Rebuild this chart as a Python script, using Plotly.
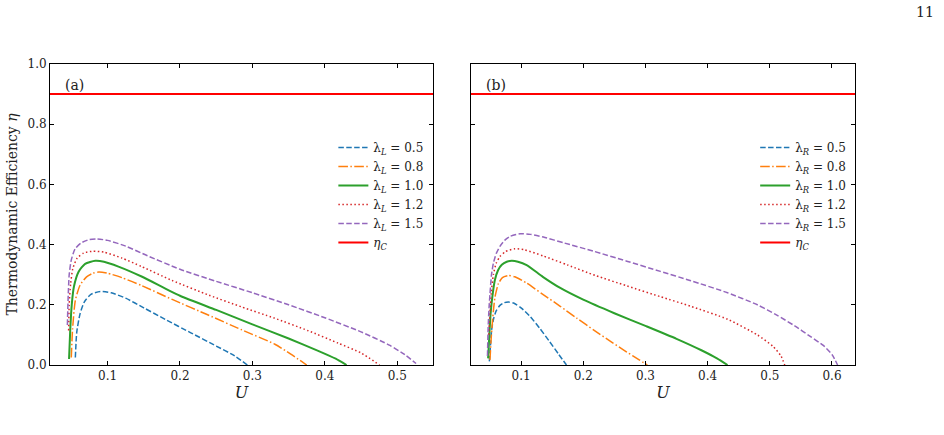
import plotly.graph_objects as go

# ---------------- data ----------------
eta_C = 0.9
lambdas = ["0.5", "0.8", "1.0", "1.2", "1.5"]

# Panel (a): varying lambda_L
a_U_05 = [0.0555, 0.0575, 0.062, 0.068, 0.077, 0.09, 0.105, 0.125, 0.15, 0.18, 0.215, 0.25, 0.275, 0.293]
a_E_05 = [0.025, 0.11, 0.17, 0.21, 0.235, 0.244, 0.24, 0.222, 0.19, 0.151, 0.107, 0.063, 0.031, 0.0]
a_U_08 = [0.0499, 0.0517, 0.0555, 0.062, 0.071, 0.08, 0.088, 0.1, 0.12, 0.147, 0.19, 0.239, 0.285, 0.331, 0.353, 0.375]
a_E_08 = [0.025, 0.12, 0.215, 0.265, 0.293, 0.305, 0.309, 0.305, 0.29, 0.264, 0.217, 0.166, 0.117, 0.069, 0.036, 0.0]
a_U_10 = [0.0468, 0.0485, 0.0505, 0.0535, 0.06, 0.069, 0.083, 0.095, 0.115, 0.147, 0.2, 0.25, 0.3, 0.35, 0.39, 0.415, 0.43]
a_E_10 = [0.02, 0.12, 0.2, 0.26, 0.31, 0.336, 0.346, 0.343, 0.327, 0.294, 0.23, 0.183, 0.135, 0.088, 0.048, 0.021, 0.0]
a_U_12 = [0.0462, 0.047, 0.049, 0.052, 0.058, 0.067, 0.08, 0.095, 0.12, 0.147, 0.189, 0.24, 0.285, 0.33, 0.377, 0.418, 0.45, 0.4755]
a_E_12 = [0.115, 0.2, 0.27, 0.32, 0.355, 0.372, 0.378, 0.375, 0.355, 0.327, 0.281, 0.232, 0.193, 0.156, 0.114, 0.073, 0.04, 0.0]
a_U_15 = [0.0445, 0.0455, 0.047, 0.05, 0.055, 0.063, 0.075, 0.085, 0.1, 0.125, 0.155, 0.2, 0.25, 0.3, 0.35, 0.4, 0.45, 0.49, 0.51, 0.526]
a_E_15 = [0.133, 0.22, 0.3, 0.35, 0.385, 0.405, 0.417, 0.419, 0.414, 0.395, 0.363, 0.318, 0.278, 0.24, 0.2, 0.157, 0.11, 0.065, 0.035, 0.005]

# Panel (b): varying lambda_R
b_U_05 = [0.049, 0.051, 0.0527, 0.056, 0.06, 0.066, 0.073, 0.08, 0.088, 0.1, 0.115, 0.13, 0.145, 0.16, 0.173]
b_E_05 = [0.012, 0.07, 0.117, 0.155, 0.18, 0.198, 0.207, 0.209, 0.206, 0.19, 0.16, 0.122, 0.08, 0.037, 0.0]
b_U_08 = [0.05, 0.052, 0.0538, 0.056, 0.058, 0.0635, 0.07, 0.08, 0.09, 0.109, 0.135, 0.163, 0.19, 0.217, 0.245, 0.27, 0.29, 0.303]
b_E_08 = [0.017, 0.09, 0.14, 0.19, 0.225, 0.27, 0.29, 0.297, 0.293, 0.272, 0.235, 0.195, 0.155, 0.116, 0.077, 0.043, 0.017, 0.0]
b_U_10 = [0.047, 0.049, 0.051, 0.054, 0.058, 0.063, 0.069, 0.077, 0.085, 0.095, 0.109, 0.135, 0.163, 0.2, 0.25, 0.3, 0.35, 0.39, 0.415, 0.432]
b_E_10 = [0.022, 0.1, 0.17, 0.23, 0.283, 0.315, 0.333, 0.343, 0.346, 0.343, 0.332, 0.293, 0.256, 0.217, 0.172, 0.13, 0.087, 0.049, 0.022, 0.0]
b_U_12 = [0.048, 0.05, 0.052, 0.0555, 0.06, 0.066, 0.075, 0.09, 0.105, 0.136, 0.175, 0.22, 0.27, 0.324, 0.373, 0.432, 0.48, 0.505, 0.518, 0.524]
b_E_12 = [0.1, 0.172, 0.24, 0.3, 0.338, 0.36, 0.377, 0.386, 0.383, 0.362, 0.332, 0.297, 0.263, 0.227, 0.195, 0.152, 0.1, 0.062, 0.03, 0.0]
b_U_15 = [0.046, 0.047, 0.0485, 0.05, 0.0525, 0.0555, 0.06, 0.066, 0.074, 0.082, 0.0984, 0.115, 0.136, 0.17, 0.2167, 0.27, 0.324, 0.373, 0.432, 0.48, 0.512, 0.54, 0.565, 0.586, 0.6, 0.609]
b_E_15 = [0.03, 0.12, 0.19, 0.235, 0.3, 0.338, 0.37, 0.394, 0.415, 0.427, 0.436, 0.434, 0.425, 0.405, 0.378, 0.345, 0.311, 0.28, 0.24, 0.2, 0.165, 0.13, 0.095, 0.065, 0.035, 0.0]

x_ticks_a = [0.1, 0.2, 0.3, 0.4, 0.5]
x_ticks_b = [0.1, 0.2, 0.3, 0.4, 0.5, 0.6]
y_ticks = [0.0, 0.2, 0.4, 0.6, 0.8, 1.0]

# ---------------- styling ----------------
SERIF = "DejaVu Serif"
colors = ["#1f77b4", "#ff7f0e", "#2ca02c", "#d62728", "#9467bd"]
dashes = ["5.5px,2.4px", "9.6px,2.4px,1.5px,2.4px", "solid", "1.5px,2.5px", "5.5px,2.4px"]
widths = [1.5, 1.5, 2.0, 1.5, 1.5]

fig = go.Figure()

series_a = [(a_U_05, a_E_05), (a_U_08, a_E_08), (a_U_10, a_E_10), (a_U_12, a_E_12), (a_U_15, a_E_15)]
series_b = [(b_U_05, b_E_05), (b_U_08, b_E_08), (b_U_10, b_E_10), (b_U_12, b_E_12), (b_U_15, b_E_15)]

for panel, (series, sub, xa, ya, leg, xr) in enumerate([
        (series_a, "L", "x", "y", "legend", [0.0205, 0.5494]),
        (series_b, "R", "x2", "y2", "legend2", [0.0194, 0.637])]):
    for i, (u, e) in enumerate(series):
        fig.add_trace(go.Scatter(
            x=u, y=e, mode="lines", xaxis=xa, yaxis=ya, legend=leg,
            line=dict(color=colors[i], width=widths[i], dash=dashes[i], shape="spline", smoothing=0.6),
            name=f"λ<sub><i>{sub}</i></sub> = {lambdas[i]}"))
    fig.add_trace(go.Scatter(
        x=xr, y=[eta_C, eta_C], mode="lines", xaxis=xa, yaxis=ya, legend=leg,
        line=dict(color="#ff0000", width=2), name="<i>η</i><sub><i>C</i></sub>"))

axis_common = dict(showline=True, linecolor="black", linewidth=1, mirror="allticks",
                   ticks="inside", ticklen=4, tickwidth=1, tickcolor="black",
                   showgrid=False, zeroline=False,
                   tickfont=dict(family=SERIF, size=12, color="#222"))

fig.update_layout(
    width=944, height=435,
    margin=dict(l=48, r=89, t=64, b=70),
    plot_bgcolor="white", paper_bgcolor="white",
    showlegend=True,
    xaxis=dict(domain=[0, 0.4758], range=[0.0205, 0.5494], tickvals=x_ticks_a,
               ticktext=[f"{v:.1f}" for v in x_ticks_a],
               title=dict(text="<i>U</i>", font=dict(family=SERIF, size=16, color="#222"), standoff=4),
               anchor="y", **axis_common),
    yaxis=dict(domain=[0, 1], range=[0, 1], tickvals=y_ticks,
               ticktext=[f"{v:.1f}" for v in y_ticks],
               title=dict(text="Thermodynamic Efficiency <i>η</i>", font=dict(family=SERIF, size=14, color="#222"), standoff=6),
               anchor="x", **axis_common),
    xaxis2=dict(domain=[0.5229, 1], range=[0.0194, 0.637], tickvals=x_ticks_b,
                ticktext=[f"{v:.1f}" for v in x_ticks_b],
                title=dict(text="<i>U</i>", font=dict(family=SERIF, size=16, color="#222"), standoff=4),
                anchor="y2", **axis_common),
    yaxis2=dict(domain=[0, 1], range=[0, 1], tickvals=y_ticks, showticklabels=False,
                anchor="x2", **axis_common),
    legend=dict(x=0.352, y=0.771, xanchor="left", yanchor="top", bgcolor="rgba(0,0,0,0)",
                font=dict(family=SERIF, size=12, color="#222"), tracegroupgap=0),
    legend2=dict(x=0.876, y=0.771, xanchor="left", yanchor="top", bgcolor="rgba(0,0,0,0)",
                 font=dict(family=SERIF, size=12, color="#222"), tracegroupgap=0),
    annotations=[
        dict(text="(a)", xref="x domain", yref="y domain", x=0.035, y=0.93, xanchor="left", yanchor="middle",
             showarrow=False, font=dict(family=SERIF, size=14, color="#222")),
        dict(text="(b)", xref="x2 domain", yref="y2 domain", x=0.035, y=0.93, xanchor="left", yanchor="middle",
             showarrow=False, font=dict(family=SERIF, size=14, color="#222")),
        dict(text="11", xref="paper", yref="paper", x=1.087, y=1.173, xanchor="center", yanchor="middle",
             showarrow=False, font=dict(family=SERIF, size=14, color="#222")),
    ],
)

fig.write_html("out.html")
